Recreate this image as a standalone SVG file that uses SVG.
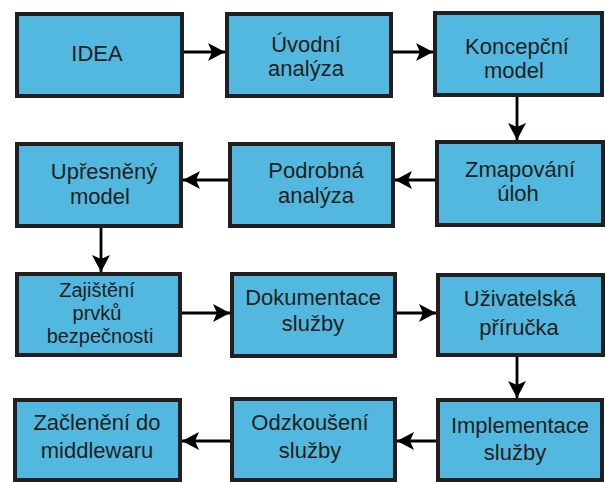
<svg xmlns="http://www.w3.org/2000/svg" width="606" height="482" viewBox="0 0 606 482">
<style>
.box{fill:#52B8DF;stroke:#231F20;stroke-width:4}
.lbl{font-family:"Liberation Sans",Arial,sans-serif;font-size:22px;font-weight:normal;fill:#231F20;text-anchor:middle}
.sm{font-size:20px}
.con{stroke:#000;stroke-width:2.8;fill:none;marker-end:url(#ah)}
</style>
<defs>
<marker id="ah" viewBox="0 0 17 18" refX="17" refY="9" markerWidth="17" markerHeight="18" markerUnits="userSpaceOnUse" orient="auto">
<path d="M0,0 L17,9 L0,18 L4,9 z" fill="#000"/>
</marker>
</defs>
<rect width="606" height="482" fill="#fff"/>
<g id="connectors">
<line class="con" x1="184" y1="52" x2="225" y2="52"/>
<line class="con" x1="393" y1="52" x2="433" y2="52"/>
<line class="con" x1="517" y1="97" x2="517" y2="140"/>
<line class="con" x1="435" y1="180" x2="395" y2="180"/>
<line class="con" x1="228" y1="180" x2="183" y2="180"/>
<line class="con" x1="101" y1="228" x2="101" y2="272"/>
<line class="con" x1="182" y1="313" x2="230" y2="313"/>
<line class="con" x1="397" y1="313" x2="436" y2="313"/>
<line class="con" x1="517" y1="357" x2="517" y2="398"/>
<line class="con" x1="436" y1="441" x2="397" y2="441"/>
<line class="con" x1="230" y1="441" x2="182" y2="441"/>
</g>
<g id="n1"><rect class="box" x="17" y="14" width="165" height="82"/><text class="lbl" x="97" y="61">IDEA</text></g>
<g id="n2"><rect class="box" x="227" y="14" width="164" height="82"/><text class="lbl" x="306" y="52">Úvodní</text><text class="lbl" x="306" y="76">analýza</text></g>
<g id="n3"><rect class="box" x="435" y="13" width="167" height="82"/><text class="lbl" x="517" y="54">Koncepční</text><text class="lbl" x="514" y="78">model</text></g>
<g id="n4"><rect class="box" x="437" y="142" width="166" height="83"/><text class="lbl" x="520" y="177">Zmapování</text><text class="lbl" x="518" y="201">úloh</text></g>
<g id="n5"><rect class="box" x="230" y="144" width="163" height="82"/><text class="lbl" x="316" y="178">Podrobná</text><text class="lbl" x="316" y="203">analýza</text></g>
<g id="n6"><rect class="box" x="17" y="144" width="164" height="82"/><text class="lbl" x="104" y="179">Upřesněný</text><text class="lbl" x="100" y="204">model</text></g>
<g id="n7"><rect class="box" x="17" y="274" width="163" height="81"/><text class="lbl sm" x="97" y="297">Zajištění</text><text class="lbl sm" x="97" y="320">prvků</text><text class="lbl sm" x="100" y="343">bezpečnosti</text></g>
<g id="n8"><rect class="box" x="232" y="274" width="163" height="82"/><text class="lbl" x="313" y="305">Dokumentace</text><text class="lbl" x="313" y="331">služby</text></g>
<g id="n9"><rect class="box" x="438" y="275" width="165" height="80"/><text class="lbl" x="520" y="306">Uživatelská</text><text class="lbl" x="519" y="335">příručka</text></g>
<g id="n10"><rect class="box" x="438" y="400" width="164" height="80"/><text class="lbl" x="520" y="433">Implementace</text><text class="lbl" x="515" y="460">služby</text></g>
<g id="n11"><rect class="box" x="232" y="399" width="163" height="81"/><text class="lbl" x="310" y="430">Odzkoušení</text><text class="lbl" x="310" y="458">služby</text></g>
<g id="n12"><rect class="box" x="15" y="400" width="165" height="80"/><text class="lbl" x="97" y="430">Začlenění do</text><text class="lbl" x="97" y="458">middlewaru</text></g>
</svg>
